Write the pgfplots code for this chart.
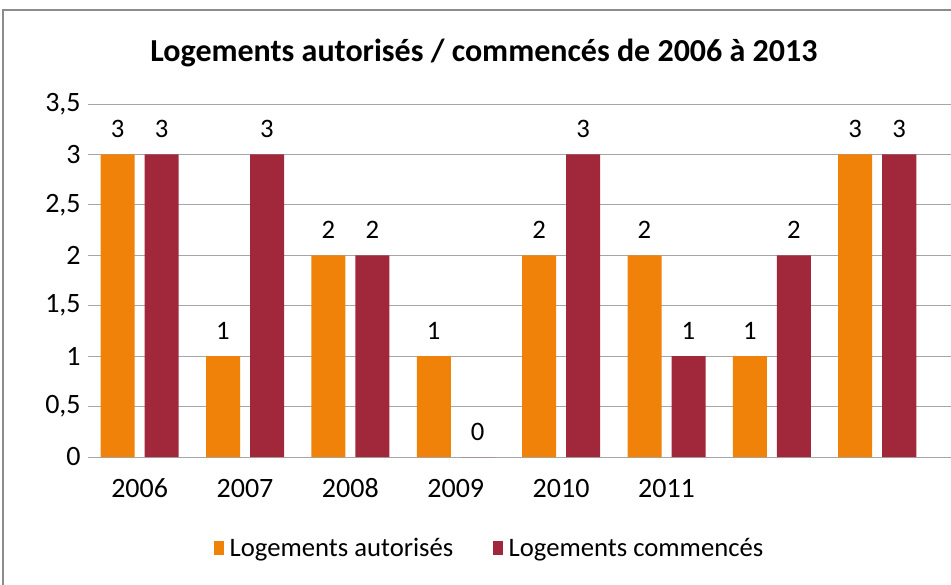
\documentclass[border=0pt]{standalone}
\usepackage{pgfplots}
\pgfplotsset{compat=1.18}
\usepackage{fontspec}
\setmainfont{Carlito}

\definecolor{autor}{HTML}{F0820A}
\definecolor{commen}{HTML}{A0283A}
\definecolor{grille}{HTML}{A6A6A6}
\definecolor{cadre}{HTML}{8C8C8C}

\begin{document}
\begin{tikzpicture}
% page = 951 x 585 px, 1 px = 0.75 pt
\path[use as bounding box] (0pt,0pt) rectangle (713.25pt,-438.75pt);
\draw[cadre, line width=1.5pt] (2.25pt,-438.75pt) -- (2.25pt,-7.5pt) -- (713.25pt,-7.5pt);
\node[font=\bfseries\fontsize{24}{28}\selectfont] at (363pt,-40pt)
    {Logements autorisés / commencés de 2006 à 2013};

\begin{axis}[
    at={(66pt,-342.75pt)}, anchor=south west,
    scale only axis,
    width=647.25pt, height=264.75pt,
    ybar=7.5pt, bar width=25.5pt,
    xmin=-0.49, xmax=7.70,
    ymin=0, ymax=3.5,
    xtick={0,...,7},
    xticklabels={2006,2007,2008,2009,2010,2011,,},
    ytick={0,0.5,...,3.5},
    ymajorgrids,
    grid style={grille, line width=0.75pt},
    axis line style={draw=none},
    major tick length=0pt,
    /pgf/number format/assume math mode=true,
    /pgf/number format/use comma,
    /pgf/number format/1000 sep={},
    tick label style={font=\fontsize{21}{24}\selectfont},
    xticklabel style={text height=14pt, text depth=0pt, yshift=-13pt},
    yticklabel style={xshift=-2pt},
    nodes near coords,
    every node near coord/.append style={font=\fontsize{20}{24}\selectfont, text=black, yshift=9pt},
    legend columns=2,
    legend style={at={(0.466,-0.258)}, anchor=center, draw=none,
        font=\fontsize{20}{24}\selectfont,
        /tikz/every odd column/.append style={column sep=2pt},
        /tikz/every even column/.append style={column sep=28pt}},
    legend image code/.code={\fill[#1] (0pt,-5.5pt) rectangle (7.5pt,5.5pt);},
]
\addplot[fill=autor, draw=none] coordinates {
    (0,3) (1,1) (2,2) (3,1) (4,2) (5,2) (6,1) (7,3)
};
\addplot[fill=commen, draw=none] coordinates {
    (0,3) (1,3) (2,2) (3,0) (4,3) (5,1) (6,2) (7,3)
};
\legend{Logements autorisés, Logements commencés}
\end{axis}
\end{tikzpicture}
\end{document}
